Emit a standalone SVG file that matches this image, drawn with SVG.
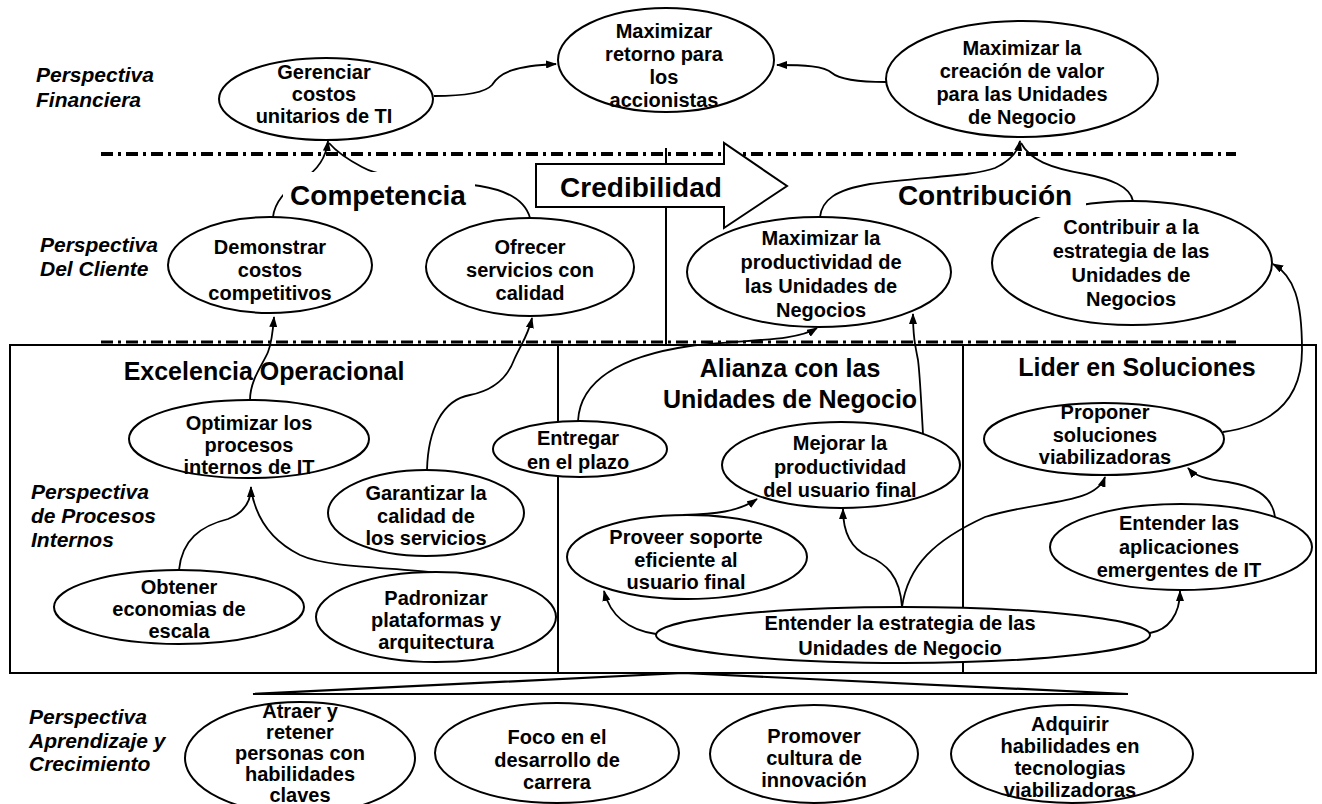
<svg xmlns="http://www.w3.org/2000/svg" width="1322" height="804" viewBox="0 0 1322 804">
<style>
.t{font-family:"Liberation Sans",Arial,sans-serif;font-weight:bold;font-size:20px;text-anchor:middle;fill:#000}
.p{font-family:"Liberation Sans",Arial,sans-serif;font-weight:bold;font-style:italic;font-size:21px;fill:#000}
.h{font-family:"Liberation Sans",Arial,sans-serif;font-weight:bold;font-size:25px;text-anchor:middle;fill:#000}
.b{font-family:"Liberation Sans",Arial,sans-serif;font-weight:bold;font-size:28px;text-anchor:middle;fill:#000}
.n{fill:#fff;stroke:#000;stroke-width:2}
.c{fill:none;stroke:#000;stroke-width:1.8}
.ln{fill:none;stroke:#000;stroke-width:2}
</style>
<defs>
<marker id="ah" markerUnits="userSpaceOnUse" markerWidth="11" markerHeight="8" refX="10" refY="4" orient="auto">
<path d="M0,0 L11,4 L0,8 z" fill="#000"/>
</marker>
</defs>
<rect width="1322" height="804" fill="#fff"/>

<g id="frame">
<line x1="101" y1="154" x2="1236" y2="154" stroke="#000" stroke-width="4" stroke-dasharray="12 5 3 5"/>
<line x1="101" y1="342" x2="1236" y2="342" stroke="#000" stroke-width="3" stroke-dasharray="12 5 3 5"/>
<line x1="666" y1="148" x2="666" y2="345" class="ln"/>
<rect x="10" y="345" width="1306" height="328" class="ln"/>
<line x1="558" y1="345" x2="558" y2="673" class="ln"/>
<line x1="963" y1="345" x2="963" y2="673" class="ln"/>
<polygon points="253,694 683,673 1128,694" fill="#fff" stroke="#000" stroke-width="2.2" stroke-linejoin="miter"/>
</g>

<g id="labels">
<text class="p" x="36" y="82">Perspectiva</text>
<text class="p" x="36" y="107">Financiera</text>
<text class="p" x="40" y="252">Perspectiva</text>
<text class="p" x="40" y="276">Del Cliente</text>
<text class="p" x="31" y="499">Perspectiva</text>
<text class="p" x="31" y="523">de Procesos</text>
<text class="p" x="31" y="547">Internos</text>
<text class="p" x="29" y="724">Perspectiva</text>
<text class="p" x="29" y="748">Aprendizaje y</text>
<text class="p" x="29" y="771">Crecimiento</text>
</g>

<g id="connectors">
<path class="c" d="M434,96 C465,96 485,93 492,85 C500,72 515,66 556,64" marker-end="url(#ah)"/>
<path class="c" d="M886,82 C860,82 840,80 832,73 C824,66 805,65 777,65" marker-end="url(#ah)"/>
<path class="c" d="M1133,201 C1130,186 1110,179 1085,174 C1050,168 1030,160 1021,143"/>
<path class="c" d="M820,217 C822,200 835,190 870,184 C920,177 975,176 995,168 C1010,161 1018,152 1020,141" marker-end="url(#ah)"/>
<path class="c" d="M273,217 C275,200 288,188 303,179 C318,170 326,158 328,141" marker-end="url(#ah)"/>
<path class="c" d="M530,218 C525,200 505,190 480,186 C430,179 385,180 362,167 C345,158 335,150 329,143"/>
<path class="c" d="M250,400 C250,380 263,364 268,352 C272,342 273,330 274,317" marker-end="url(#ah)"/>
<path class="c" d="M427,470 C428,430 442,400 470,395 C495,390 508,376 514,360 C520,346 528,336 532,318" marker-end="url(#ah)"/>
<path class="c" d="M179,570 C182,540 200,526 228,519 C246,512 251,500 251,487" marker-end="url(#ah)"/>
<path class="c" d="M436,573 C400,567 330,569 300,555 C272,541 256,520 251,489"/>
<path class="c" d="M578,421 C580,380 622,356 690,346 C745,339 795,342 817,328" marker-end="url(#ah)"/>
<path class="c" d="M923,434 C921,400 920,375 918,360 C915,345 913,335 913,314" marker-end="url(#ah)"/>
<path class="c" d="M683,515 C715,514 738,512 757,499" marker-end="url(#ah)"/>
<path class="c" d="M656,634 C628,630 610,615 604,591" marker-end="url(#ah)"/>
<path class="c" d="M902,607 C900,575 885,563 868,556 C850,548 843,532 843,509" marker-end="url(#ah)"/>
<path class="c" d="M902,607 C908,565 935,540 985,517 C1040,500 1095,505 1105,477" marker-end="url(#ah)"/>
<path class="c" d="M1150,633 C1168,630 1180,615 1180,591" marker-end="url(#ah)"/>
<path class="c" d="M1275,517 C1272,494 1252,486 1228,482 C1205,479 1195,476 1188,468" marker-end="url(#ah)"/>
<path class="c" d="M1223,432 C1272,425 1302,400 1302,350 C1302,300 1294,276 1273,264" marker-end="url(#ah)"/>
</g>

<g id="credibilidad">
<polygon points="536,164 724,164 724,143 787,186 724,228 724,207 536,207" fill="#fff" stroke="#000" stroke-width="2"/>
<text class="b" x="641" y="197">Credibilidad</text>
</g>

<g id="competencia">
<rect x="283" y="172" width="192" height="40" fill="#fff"/>
<text class="b" x="378" y="205">Competencia</text>
</g>

<g id="n-gerenciar">
<ellipse class="n" cx="326" cy="99" rx="107" ry="41"/>
<text class="t" x="324" y="79">Gerenciar</text>
<text class="t" x="324" y="101">costos</text>
<text class="t" x="324" y="123">unitarios de TI</text>
</g>
<g id="n-retorno">
<ellipse class="n" cx="666" cy="60" rx="108" ry="52"/>
<text class="t" x="664" y="38">Maximizar</text>
<text class="t" x="664" y="61">retorno para</text>
<text class="t" x="664" y="84">los</text>
<text class="t" x="664" y="107">accionistas</text>
</g>
<g id="n-creacion">
<ellipse class="n" cx="1022" cy="79" rx="136" ry="58"/>
<text class="t" x="1022" y="55">Maximizar la</text>
<text class="t" x="1022" y="78">creación de valor</text>
<text class="t" x="1022" y="101">para las Unidades</text>
<text class="t" x="1022" y="124">de Negocio</text>
</g>
<g id="n-demonstrar">
<ellipse class="n" cx="270" cy="265" rx="102" ry="48"/>
<text class="t" x="270" y="254">Demonstrar</text>
<text class="t" x="270" y="277">costos</text>
<text class="t" x="270" y="300">competitivos</text>
</g>
<g id="n-ofrecer">
<ellipse class="n" cx="530" cy="267" rx="104" ry="49"/>
<text class="t" x="530" y="254">Ofrecer</text>
<text class="t" x="530" y="277">servicios con</text>
<text class="t" x="530" y="300">calidad</text>
</g>
<g id="n-maxprod">
<ellipse class="n" cx="819" cy="272" rx="132" ry="55"/>
<text class="t" x="821" y="245">Maximizar la</text>
<text class="t" x="821" y="269">productividad de</text>
<text class="t" x="821" y="293">las Unidades de</text>
<text class="t" x="821" y="317">Negocios</text>
</g>
<g id="n-contribuir">
<ellipse class="n" cx="1132" cy="263" rx="140" ry="62"/>
<text class="t" x="1131" y="234">Contribuir a la</text>
<text class="t" x="1131" y="258">estrategia de las</text>
<text class="t" x="1131" y="282">Unidades de</text>
<text class="t" x="1131" y="306">Negocios</text>
</g>

<g id="contribucion">
<rect x="888" y="188" width="198" height="29" fill="#fff"/>
<text class="b" x="985" y="205">Contribución</text>
</g>

<g id="titles">
<text class="h" x="264" y="380">Excelencia Operacional</text>
<text class="h" x="790" y="377">Alianza con las</text>
<text class="h" x="790" y="408">Unidades de Negocio</text>
<text class="h" x="1137" y="376">Lider en Soluciones</text>
</g>

<g id="n-optimizar">
<ellipse class="n" cx="249" cy="439" rx="120" ry="39"/>
<text class="t" x="249" y="430">Optimizar los</text>
<text class="t" x="249" y="452">procesos</text>
<text class="t" x="249" y="474">internos de IT</text>
</g>
<g id="n-garantizar">
<ellipse class="n" cx="426" cy="513" rx="98" ry="43"/>
<text class="t" x="426" y="500">Garantizar la</text>
<text class="t" x="426" y="523">calidad de</text>
<text class="t" x="426" y="545">los servicios</text>
</g>
<g id="n-obtener">
<ellipse class="n" cx="179" cy="607" rx="125" ry="37"/>
<text class="t" x="179" y="594">Obtener</text>
<text class="t" x="179" y="616">economias de</text>
<text class="t" x="179" y="638">escala</text>
</g>
<g id="n-padronizar">
<ellipse class="n" cx="436" cy="617" rx="120" ry="45"/>
<text class="t" x="436" y="605">Padronizar</text>
<text class="t" x="436" y="627">plataformas y</text>
<text class="t" x="436" y="649">arquitectura</text>
</g>
<g id="n-entregar">
<ellipse class="n" cx="580" cy="449" rx="87" ry="28"/>
<text class="t" x="578" y="445">Entregar</text>
<text class="t" x="578" y="469">en el plazo</text>
</g>
<g id="n-mejorar">
<ellipse class="n" cx="841" cy="465" rx="119" ry="43"/>
<text class="t" x="840" y="450">Mejorar la</text>
<text class="t" x="840" y="474">productividad</text>
<text class="t" x="840" y="497">del usuario final</text>
</g>
<g id="n-proveer">
<ellipse class="n" cx="687" cy="557" rx="120" ry="42"/>
<text class="t" x="686" y="544">Proveer soporte</text>
<text class="t" x="686" y="567">eficiente al</text>
<text class="t" x="686" y="589">usuario final</text>
</g>
<g id="n-entender-estrategia">
<ellipse class="n" cx="903" cy="635" rx="247" ry="28"/>
<text class="t" x="900" y="630">Entender la estrategia de las</text>
<text class="t" x="900" y="655">Unidades de Negocio</text>
</g>
<g id="n-proponer">
<ellipse class="n" cx="1104" cy="439" rx="120" ry="36"/>
<text class="t" x="1105" y="419">Proponer</text>
<text class="t" x="1105" y="442">soluciones</text>
<text class="t" x="1105" y="464">viabilizadoras</text>
</g>
<g id="n-entender-aplicaciones">
<ellipse class="n" cx="1181" cy="547" rx="131" ry="43"/>
<text class="t" x="1179" y="530">Entender las</text>
<text class="t" x="1179" y="554">aplicaciones</text>
<text class="t" x="1179" y="577">emergentes de IT</text>
</g>

<g id="n-atraer">
<ellipse class="n" cx="300" cy="758" rx="115" ry="56"/>
<text class="t" x="300" y="718">Atraer y</text>
<text class="t" x="300" y="739">retener</text>
<text class="t" x="300" y="760">personas con</text>
<text class="t" x="300" y="781">habilidades</text>
<text class="t" x="300" y="802">claves</text>
</g>
<g id="n-foco">
<ellipse class="n" cx="557" cy="753" rx="122" ry="50"/>
<text class="t" x="557" y="744">Foco en el</text>
<text class="t" x="557" y="767">desarrollo de</text>
<text class="t" x="557" y="789">carrera</text>
</g>
<g id="n-promover">
<ellipse class="n" cx="814" cy="754" rx="104" ry="49"/>
<text class="t" x="814" y="743">Promover</text>
<text class="t" x="814" y="765">cultura de</text>
<text class="t" x="814" y="787">innovación</text>
</g>
<g id="n-adquirir">
<ellipse class="n" cx="1072" cy="754" rx="121" ry="49"/>
<text class="t" x="1070" y="731">Adquirir</text>
<text class="t" x="1070" y="753">habilidades en</text>
<text class="t" x="1070" y="775">tecnologias</text>
<text class="t" x="1070" y="797">viabilizadoras</text>
</g>
</svg>
